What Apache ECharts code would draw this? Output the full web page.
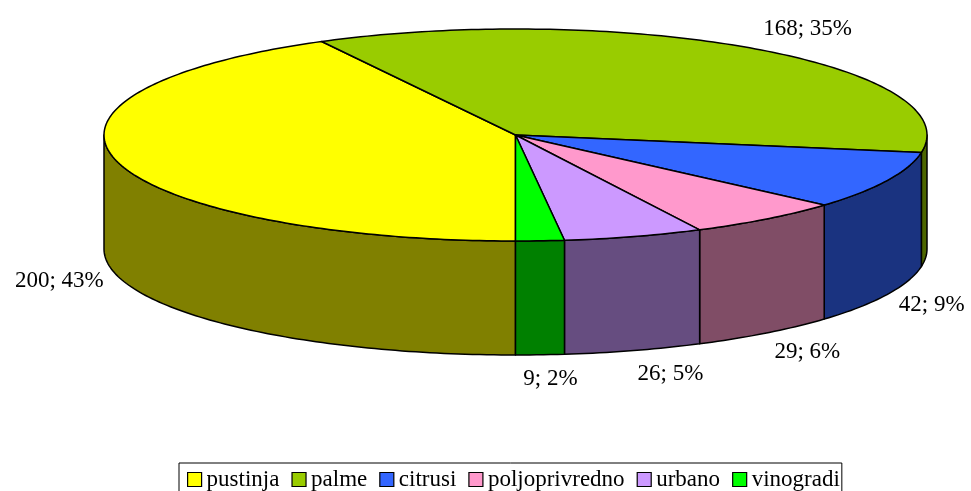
<!DOCTYPE html>
<html>
<head>
<meta charset="utf-8">
<script src="https://cdn.jsdelivr.net/npm/echarts@6/dist/echarts.min.js"></script>
<style>
  html, body { margin: 0; padding: 0; background: #fff; }
  #chart { width: 971px; height: 491px; }
</style>
</head>
<body>
<div id="chart"></div>
<script>
// data
const categories = ['pustinja', 'palme', 'citrusi', 'poljoprivredno', 'urbano', 'vinogradi']
const values = [200, 168, 42, 29, 26, 9]
const percentLabels = ['43%', '35%', '9%', '6%', '5%', '2%']

// colours: top face and darker side wall
const topColors = ['#FFFF00', '#99CC00', '#3366FF', '#FF99CC', '#CC99FF', '#00FF00']
const sideColors = ['#808000', '#4D6600', '#1A3380', '#804D66', '#664D80', '#008000']

// pie geometry (pixels)
const CX = 515.5
const CY = 135
const RX = 411.5
const RY = 106
const DEPTH = 114
const START_ANGLE = 180 // degrees clockwise from 12 o'clock
const LABEL_FONT = '23px "Liberation Serif"'
const EDGE = 1.5

const total = values.reduce((a, b) => a + b, 0)

// start/end angles per slice
const angles = []
let acc = START_ANGLE
values.forEach(v => {
  const sweep = v / total * 360
  angles.push([acc, acc + sweep])
  acc += sweep
})

const rad = d => d * Math.PI / 180
const pt = (deg, dy) => [CX + RX * Math.sin(rad(deg)), CY - RY * Math.cos(rad(deg)) + (dy || 0)]

const arc = (a, b, dy) => {
  const pts = []
  const n = Math.max(2, Math.ceil(Math.abs(b - a)))
  for (let k = 0; k <= n; k++) pts.push(pt(a + (b - a) * k / n, dy))
  return pts
}

// text width for label placement
const measureCtx = document.createElement('canvas').getContext('2d')
measureCtx.font = LABEL_FONT
const textWidth = s => measureCtx.measureText(s).width

const buildSlice = (i) => {
  const [a, b] = angles[i]
  const children = []

  // outer wall, only the front half (90..270 deg) is visible
  for (const k of [-360, 0, 360]) {
    const s = Math.max(a, 90 + k)
    const e = Math.min(b, 270 + k)
    if (e > s) {
      const pts = arc(s, e, 0).concat(arc(e, s, DEPTH))
      children.push({
        type: 'polygon',
        shape: { points: pts },
        style: { fill: sideColors[i], stroke: '#000', lineWidth: EDGE, lineJoin: 'round' }
      })
    }
  }

  // top face
  children.push({
    type: 'polygon',
    shape: { points: [[CX, CY]].concat(arc(a, b, 0)) },
    style: { fill: topColors[i], stroke: '#000', lineWidth: EDGE, lineJoin: 'round' }
  })

  // data label outside the slice
  const mid = (a + b) / 2
  const sn = Math.sin(rad(mid))
  const cs = Math.cos(rad(mid))
  const text = values[i] + '; ' + percentLabels[i]
  const halfW = textWidth(text) / 2
  const base = pt(mid, cs < 0 ? DEPTH : 0)
  const lx = base[0] + sn * 13 + Math.sign(sn) * halfW * Math.min(1, Math.abs(sn) * 6)
  const ly = base[1] - cs * 24
  children.push({
    type: 'text',
    x: lx,
    y: ly,
    style: {
      text: text,
      font: LABEL_FONT,
      fill: '#000',
      align: 'center',
      verticalAlign: 'middle'
    }
  })

  return { type: 'group', children: children }
}

const chart = echarts.init(document.getElementById('chart'), null, { renderer: 'canvas' })

const option = {
  animation: false,
  color: topColors,
  legend: {
    data: categories,
    left: 179,
    top: 463,
    orient: 'horizontal',
    icon: 'rect',
    itemWidth: 14,
    itemHeight: 14,
    itemGap: 12,
    padding: [5, 2, 10, 8],
    borderColor: '#000',
    borderWidth: 1,
    borderRadius: 0,
    itemStyle: { borderColor: '#000', borderWidth: 1.2 },
    textStyle: { fontSize: 23, fontFamily: 'Liberation Serif', color: '#000' }
  },
  series: categories.map((name, i) => ({
    type: 'custom',
    name: name,
    coordinateSystem: 'none',
    silent: true,
    itemStyle: { color: topColors[i] },
    data: [[values[i]]],
    renderItem: () => buildSlice(i)
  }))
}

chart.setOption(option)
</script>
</body>
</html>
